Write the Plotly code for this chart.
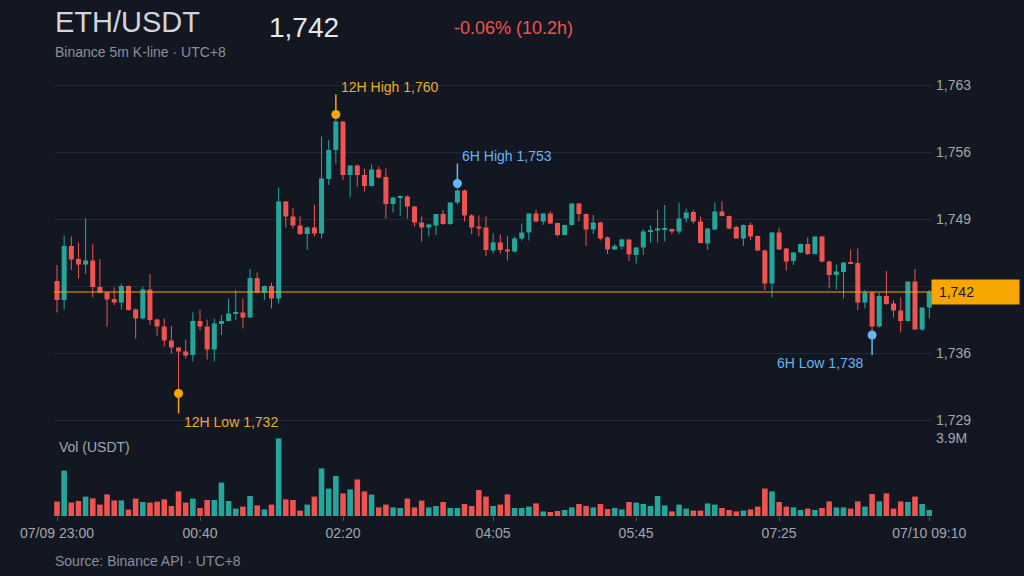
import numpy as np
import plotly.graph_objects as go

# ---------------- data (ETH/USDT, 5m candles, UTC+8) ----------------
open_ = [1742.95, 1741.05, 1746.45, 1745.15, 1744.6, 1745.0, 1742.35, 1741.8, 1741.15, 1740.8,
         1742.45, 1740.1, 1739.2, 1742.1, 1739.1, 1738.4, 1737.0, 1736.3, 1735.9, 1735.55,
         1738.95, 1738.4, 1736.1, 1738.65, 1738.95, 1739.65, 1739.8, 1739.3, 1743.25, 1741.8,
         1742.45, 1741.2, 1750.9, 1749.4, 1748.5, 1747.65, 1748.3, 1747.7, 1753.15, 1756.05,
         1758.9, 1753.55, 1754.5, 1753.55, 1752.45, 1754.1, 1753.35, 1750.65, 1751.3, 1751.4,
         1750.4, 1748.8, 1748.3, 1748.5, 1749.65, 1748.65, 1750.8, 1752.0, 1749.5, 1748.4,
         1748.3, 1746.0, 1746.8, 1746.1, 1745.9, 1747.2, 1747.8, 1749.7, 1748.9, 1749.7,
         1748.75, 1747.55, 1748.55, 1750.7, 1749.65, 1748.1, 1748.8, 1747.3, 1746.1, 1746.4,
         1747.1, 1745.55, 1746.3, 1747.85, 1748.0, 1748.1, 1748.15, 1747.9, 1749.2, 1749.85,
         1748.9, 1746.7, 1748.1, 1749.9, 1749.45, 1748.35, 1747.2, 1748.55, 1747.45, 1746.0,
         1742.7, 1747.8, 1746.2, 1744.95, 1745.8, 1746.65, 1745.65, 1747.4, 1744.9, 1743.55,
         1743.85, 1744.85, 1744.75, 1740.8, 1741.8, 1738.4, 1741.45, 1740.7, 1740.0, 1738.95,
         1742.9, 1738.1, 1740.3]
high = [1744.55, 1747.5, 1747.4, 1746.8, 1749.2, 1746.6, 1745.15, 1741.9, 1742.3, 1742.7,
        1742.5, 1740.2, 1742.4, 1743.65, 1739.2, 1739.2, 1738.45, 1736.35, 1737.1, 1739.8,
        1740.05, 1739.1, 1739.2, 1739.55, 1741.2, 1742.05, 1741.2, 1744.15, 1743.8, 1742.5,
        1742.8, 1752.3, 1750.95, 1750.25, 1749.4, 1748.4, 1750.6, 1757.4, 1757.05, 1759.6,
        1758.95, 1754.5, 1754.6, 1754.2, 1754.6, 1754.4, 1754.2, 1751.35, 1751.5, 1751.5,
        1750.45, 1749.4, 1748.7, 1749.65, 1750.05, 1750.8, 1752.7, 1752.1, 1749.65, 1749.5,
        1749.4, 1747.7, 1747.6, 1747.45, 1747.4, 1748.7, 1749.7, 1750.1, 1749.7, 1749.9,
        1748.8, 1748.6, 1750.7, 1750.75, 1749.7, 1749.55, 1748.9, 1747.4, 1746.65, 1747.2,
        1747.15, 1746.35, 1748.1, 1748.5, 1750.05, 1750.55, 1748.2, 1750.8, 1750.2, 1750.05,
        1749.4, 1748.25, 1750.8, 1750.9, 1749.5, 1748.5, 1748.6, 1748.8, 1747.5, 1746.1,
        1747.85, 1748.3, 1746.25, 1745.85, 1746.7, 1747.3, 1747.4, 1747.45, 1745.0, 1744.6,
        1744.85, 1746.1, 1746.2, 1742.05, 1741.9, 1741.8, 1743.95, 1741.05, 1741.3, 1742.9,
        1744.15, 1740.3, 1742.05]
low = [1739.8, 1740.1, 1744.05, 1743.2, 1743.65, 1741.3, 1741.7, 1738.4, 1740.55, 1740.1,
       1740.0, 1737.2, 1739.1, 1738.55, 1737.5, 1736.4, 1735.7, 1731.7, 1735.2, 1734.9,
       1738.05, 1735.1, 1734.9, 1737.55, 1738.9, 1739.05, 1738.2, 1739.25, 1741.7, 1741.05,
       1740.2, 1740.7, 1748.3, 1748.2, 1747.55, 1746.05, 1747.4, 1747.2, 1752.55, 1754.7,
       1753.05, 1751.3, 1752.4, 1751.9, 1752.4, 1753.2, 1749.2, 1749.8, 1749.45, 1749.2,
       1748.4, 1746.9, 1747.4, 1747.55, 1748.55, 1748.55, 1750.6, 1748.9, 1747.65, 1747.4,
       1745.45, 1745.7, 1745.7, 1745.0, 1745.8, 1747.0, 1747.0, 1748.8, 1748.55, 1748.65,
       1747.4, 1747.5, 1748.5, 1748.9, 1746.45, 1747.65, 1747.0, 1745.65, 1746.05, 1746.1,
       1744.95, 1744.7, 1745.55, 1746.8, 1746.8, 1746.9, 1747.65, 1747.65, 1748.8, 1748.7,
       1746.7, 1746.05, 1748.05, 1749.4, 1748.1, 1747.2, 1746.45, 1747.05, 1745.95, 1742.05,
       1741.3, 1746.05, 1744.0, 1744.55, 1745.75, 1745.55, 1745.6, 1744.8, 1742.2, 1742.1,
       1741.2, 1744.65, 1740.05, 1740.2, 1737.55, 1738.3, 1740.55, 1739.3, 1737.8, 1738.9,
       1738.1, 1737.95, 1739.2]
close = [1741.05, 1746.45, 1745.1, 1744.6, 1745.0, 1742.35, 1741.8, 1741.1, 1740.8, 1742.45,
         1740.05, 1739.2, 1742.1, 1739.05, 1738.4, 1737.0, 1736.3, 1735.9, 1735.5, 1738.95,
         1738.4, 1736.1, 1738.7, 1738.95, 1739.7, 1739.8, 1739.3, 1743.25, 1741.8, 1742.45,
         1741.2, 1750.9, 1749.4, 1748.5, 1747.65, 1748.3, 1747.7, 1753.2, 1756.05, 1758.9,
         1753.55, 1754.5, 1753.55, 1752.45, 1754.1, 1753.3, 1750.65, 1751.3, 1751.45, 1750.4,
         1748.8, 1748.3, 1748.6, 1749.65, 1748.65, 1750.8, 1752.0, 1749.5, 1748.3, 1748.2,
         1746.05, 1746.8, 1746.05, 1745.9, 1747.2, 1747.8, 1749.7, 1748.9, 1749.7, 1748.7,
         1747.55, 1748.55, 1750.7, 1749.65, 1748.1, 1748.8, 1747.2, 1746.1, 1746.45, 1747.1,
         1745.6, 1746.3, 1747.9, 1748.0, 1748.2, 1748.15, 1747.9, 1749.2, 1749.8, 1748.9,
         1746.75, 1748.2, 1749.9, 1749.45, 1748.2, 1747.2, 1748.55, 1747.4, 1746.0, 1742.7,
         1747.8, 1746.1, 1744.9, 1745.8, 1746.65, 1745.65, 1747.4, 1744.9, 1743.55, 1743.9,
         1744.8, 1744.7, 1740.8, 1741.8, 1738.4, 1741.45, 1740.65, 1740.0, 1738.95, 1742.9,
         1738.1, 1740.3, 1741.85]
volume_m = [0.72, 2.27, 0.67, 0.75, 0.97, 0.88, 0.57, 1.08, 0.78, 0.78,
            0.32, 0.87, 0.70, 0.67, 0.72, 0.83, 0.50, 1.23, 0.67, 0.87,
            0.40, 0.80, 0.80, 1.67, 0.75, 0.37, 0.47, 1.00, 0.53, 0.33,
            0.57, 3.88, 0.83, 0.80, 0.27, 0.57, 0.97, 2.38, 1.37, 2.00,
            1.13, 1.33, 1.83, 1.23, 1.07, 0.43, 0.57, 0.43, 0.40, 0.87,
            0.43, 0.77, 0.43, 0.50, 0.70, 0.40, 0.40, 0.60, 0.50, 1.30,
            0.97, 0.50, 0.57, 1.08, 0.40, 0.40, 0.47, 0.63, 0.23, 0.20,
            0.25, 0.30, 0.43, 0.60, 0.50, 0.43, 0.60, 0.35, 0.40, 0.33,
            0.70, 0.67, 0.60, 0.50, 1.00, 0.53, 0.23, 0.57, 0.37, 0.27,
            0.27, 0.63, 0.57, 0.40, 0.30, 0.23, 0.27, 0.33, 0.47, 1.37,
            1.23, 0.70, 0.47, 0.43, 0.30, 0.37, 0.30, 0.40, 0.73, 0.43,
            0.43, 0.37, 0.73, 0.47, 1.10, 0.73, 1.13, 0.37, 0.73, 0.70,
            0.97, 0.60, 0.30]

x_tick_pos = [0, 20, 40, 61, 81, 101, 122]
x_tick_labels = ["07/09 23:00", "00:40", "02:20", "04:05", "05:45", "07:25", "07/10 09:10"]
price_tick_vals = [1729.05, 1735.75, 1742.45, 1749.15, 1755.85, 1762.55]
vol_tick_vals = [3.9]
vol_tick_labels = ["3.9M"]

# ---------------- styling ----------------
BG = "#131722"
GRID = "#232835"
UP = "#26a69a"
DOWN = "#ef5350"
ORANGE = "#f7a600"
ORANGE_TXT = "#f0a830"
BLUE = "#64b5f6"
TXT = "#d1d4dc"
SUB = "#8a8e99"
TICK = "#a3a6af"
FONT = "Liberation Sans, Arial, sans-serif"

o = np.array(open_); h = np.array(high); l = np.array(low); c = np.array(close)
n = len(o)
idx = np.arange(n)
up = c >= o
colors = np.where(up, UP, DOWN)

# layout geometry (pixels)
W, H = 1024, 576
ML, MR, MT, MB = 54, 92, 70, 60
PW, PH = W - ML - MR, H - MT - MB


def px(xp):
    return (xp - ML) / PW


def py(yp):
    return (H - MB - yp) / PH


fig = go.Figure()

# wicks
for mask, col in ((up, UP), (~up, DOWN)):
    wx, wy = [], []
    for i in idx[mask]:
        wx += [i, i, None]
        wy += [l[i], h[i], None]
    fig.add_trace(go.Scatter(x=wx, y=wy, mode="lines", line=dict(color=col, width=1),
                             hoverinfo="skip", xaxis="x", yaxis="y"))

# bodies
body_base = np.minimum(o, c)
body_h = np.maximum(np.abs(c - o), 0.12)
fig.add_trace(go.Bar(x=idx, y=body_h, base=body_base, width=0.7,
                     marker=dict(color=colors, line=dict(width=0)),
                     xaxis="x", yaxis="y", hoverinfo="skip"))

# volume
fig.add_trace(go.Bar(x=idx, y=volume_m, width=0.78,
                     marker=dict(color=colors, line=dict(width=0)),
                     xaxis="x", yaxis="y2", hoverinfo="skip"))

# extremes
i12h = int(np.argmax(h)); i12l = int(np.argmin(l))
w6 = 72
i6h = n - w6 + int(np.argmax(h[-w6:])); i6l = n - w6 + int(np.argmin(l[-w6:]))
marks = [
    (i12h, h[i12h], f"12H High {h[i12h]:,.0f}", ORANGE, ORANGE_TXT, 1, "left"),
    (i12l, l[i12l], f"12H Low {l[i12l]:,.0f}", ORANGE, ORANGE_TXT, -1, "left"),
    (i6h, h[i6h], f"6H High {h[i6h]:,.0f}", BLUE, BLUE, 1, "left"),
    (i6l, l[i6l], f"6H Low {l[i6l]:,.0f}", BLUE, BLUE, -1, "right"),
]
shapes = []
annotations = []
for xi, yv, label, col, tcol, sgn, anchor in marks:
    shapes.append(dict(type="line", xref="x", yref="y", ysizemode="pixel", yanchor=yv,
                       x0=xi, x1=xi, y0=0, y1=20 * sgn, line=dict(color=col, width=1.5)))
    annotations.append(dict(x=xi, y=yv, xref="x", yref="y", text=label, showarrow=False,
                            xanchor=anchor, yanchor="middle",
                            xshift=3 if anchor == "left" else -6, yshift=28 * sgn,
                            font=dict(color=tcol, size=14, family=FONT)))
    fig.add_trace(go.Scatter(x=[xi], y=[yv], mode="markers",
                             marker=dict(color=col, size=9, line=dict(width=0)),
                             xaxis="x", yaxis="y", hoverinfo="skip"))

last = c[-1]
shapes.append(dict(type="line", xref="paper", yref="y", x0=0, x1=1, y0=last, y1=last,
                   line=dict(color=ORANGE, width=1)))

# price tick labels; the one hidden behind the last-price tag is left blank
price_tick_text = ["" if abs(v - last) < 1.5 else f"{v:,.0f}" for v in price_tick_vals]

chg = (c[-1] / o[0] - 1) * 100
hours = (n - 1) * 5 / 60
annotations += [
    dict(x=1, y=last, xref="paper", yref="y", text="\u00a0" + f"{last:,.0f}", showarrow=False,
         xanchor="left", yanchor="middle", align="left", width=81, height=18, borderpad=3,
         xshift=-1, bgcolor=ORANGE, font=dict(color="#131722", size=14, family=FONT)),
    dict(x=px(53), y=py(22), xref="paper", yref="paper", text="ETH/USDT", showarrow=False,
         xanchor="left", yanchor="middle", font=dict(color=TXT, size=29, family=FONT)),
    dict(x=px(267), y=py(27), xref="paper", yref="paper", text=f"{last:,.0f}", showarrow=False,
         xanchor="left", yanchor="middle", font=dict(color="#e6e8ec", size=28, family=FONT)),
    dict(x=px(452), y=py(28), xref="paper", yref="paper", text=f"{chg:+.2f}% ({hours:.1f}h)",
         showarrow=False, xanchor="left", yanchor="middle",
         font=dict(color=DOWN, size=18, family=FONT)),
    dict(x=px(53), y=py(52), xref="paper", yref="paper", text="Binance 5m K-line · UTC+8",
         showarrow=False, xanchor="left", yanchor="middle",
         font=dict(color=SUB, size=14, family=FONT)),
    dict(x=px(57), y=py(447), xref="paper", yref="paper", text="Vol (USDT)", showarrow=False,
         xanchor="left", yanchor="middle", font=dict(color=TICK, size=14, family=FONT)),
    dict(x=px(53), y=py(561), xref="paper", yref="paper", text="Source: Binance API · UTC+8",
         showarrow=False, xanchor="left", yanchor="middle",
         font=dict(color=SUB, size=14, family=FONT)),
]

vol_dom = [0, 78 / PH]
price_dom = [(H - MB - 428) / PH, (H - MB - 75) / PH]

fig.update_layout(
    width=W, height=H,
    margin=dict(l=ML, r=MR, t=MT, b=MB),
    paper_bgcolor=BG, plot_bgcolor=BG,
    showlegend=False, barmode="overlay",
    font=dict(family=FONT, color=TICK, size=14),
    xaxis=dict(range=[-0.42, 122.38], anchor="y2", showgrid=False, zeroline=False,
               tickmode="array", tickvals=x_tick_pos, ticktext=x_tick_labels,
               ticks="outside", ticklen=4, tickcolor="#50555f", tickwidth=1,
               showline=False, tickfont=dict(color=TICK, size=14)),
    yaxis=dict(domain=price_dom, range=[1728.25, 1763.55], side="right",
               tickmode="array", tickvals=price_tick_vals, ticktext=price_tick_text,
               showgrid=True, gridcolor=GRID, gridwidth=1, zeroline=False,
               ticks="", ticklabelstandoff=3, tickfont=dict(color=TICK, size=14)),
    yaxis2=dict(domain=vol_dom, range=[0, 3.9], side="right", anchor="x",
                tickmode="array", tickvals=vol_tick_vals, ticktext=vol_tick_labels,
                showgrid=True, gridcolor=GRID, zeroline=False, ticks="",
                ticklabelstandoff=3, tickfont=dict(color=TICK, size=14)),
    shapes=shapes, annotations=annotations,
)

fig.write_html("out.html")
